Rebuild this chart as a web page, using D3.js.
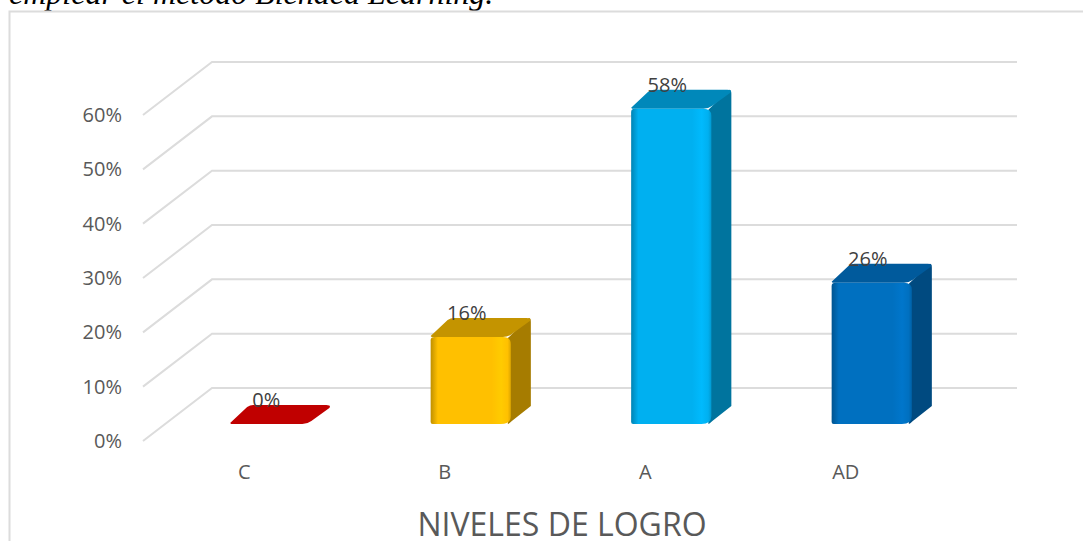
<!DOCTYPE html>
<html>
<head>
<meta charset="utf-8">
<script src="https://cdn.jsdelivr.net/npm/d3@7"></script>
<style>
  html, body { margin: 0; padding: 0; background: #fff; overflow: hidden; }
  text { font-family: "Open Sans", sans-serif; }
</style>
</head>
<body>
<div id="chart"></div>
<script>
var categories = ["C", "B", "A", "AD"];
var values = [0, 16, 58, 26];
var yTicks = [0, 10, 20, 30, 40, 50, 60];
var faceColors = ["#c00000", "#ffc000", "#00b0f0", "#0070c0"];
var topColors = ["#c00000", "#c49400", "#0088ba", "#005a9c"];
var sideColors = ["#8f0000", "#a67c00", "#00749e", "#004a80"];
var heading = "emplear el método Blended Learning.";
var axisTitle = "NIVELES DE LOGRO";

var width = 1083;
var height = 541;
// oblique offsets of the fake 3d box
var wallDx = 69, wallDy = 53;
var barDx = 20, barDy = 19;
var barLift = 17;

var xScale = d3.scaleBand().domain(categories).range([170, 972]).paddingInner(0.6).paddingOuter(0.3);
var yScale = d3.scaleLinear().domain([0, 60]).range([441, 115]);

var svg = d3.select("#chart").append("svg").attr("width", width).attr("height", height);

// heading cut by the top of the page
svg.append("text")
  .attr("x", 9).attr("y", 4)
  .style("font-family", "'Liberation Serif', serif")
  .style("font-style", "italic")
  .style("font-size", "32px")
  .attr("fill", "#000")
  .text(heading);

// chart frame, open on right and bottom
svg.append("path")
  .attr("d", "M9.5," + height + "V11.5H" + width)
  .attr("fill", "none").attr("stroke", "#dcdcdc").attr("stroke-width", 2);

// gridlines
svg.selectAll(".grid").data(yTicks).enter().append("path")
  .attr("class", "grid")
  .attr("d", d => {
    var y = yScale(d);
    return "M143," + y + "L" + (143 + wallDx) + "," + (y - wallDy) + "H1017";
  })
  .attr("fill", "none").attr("stroke", "#dcdcdc").attr("stroke-width", 2);

// gradients for the front faces
var defs = svg.append("defs");
categories.forEach((c, i) => {
  var base = d3.color(faceColors[i]);
  var g = defs.append("linearGradient").attr("id", "face" + i);
  var stops = [[0, base.darker(0.8)], [0.09, base], [0.76, base], [0.88, base.brighter(0.15)], [0.96, base], [1, base.darker(0.4)]];
  stops.forEach(s => g.append("stop").attr("offset", s[0]).attr("stop-color", s[1]));
});

function topPath(x0, x1, y) {
  return "M" + x0 + "," + (y - 1) + "L" + (x0 + barDx - 3) + "," + (y - barDy + 2)
    + "Q" + (x0 + barDx) + "," + (y - barDy) + " " + (x0 + barDx + 3) + "," + (y - barDy)
    + "H" + (x1 + barDx - 4)
    + "Q" + (x1 + barDx + 1) + "," + (y - barDy) + " " + (x1 + barDx - 1) + "," + (y - barDy + 3)
    + "L" + (x1 + 1) + "," + (y - 3) + "Q" + (x1 - 3) + "," + y + " " + (x1 - 8) + "," + y
    + "H" + (x0 + 1) + "Z";
}

function sidePath(x1, yTop, yBot) {
  return "M" + (x1 - 3) + "," + (yTop + 1) + "L" + (x1 + barDx - 2) + "," + (yTop - barDy)
    + "Q" + (x1 + barDx) + "," + (yTop - barDy) + " " + (x1 + barDx) + "," + (yTop - barDy + 4)
    + "V" + (yBot - barDy + 1) + "L" + (x1 + 1) + "," + (yBot - 3)
    + "Q" + (x1 - 2) + "," + yBot + " " + (x1 - 3) + "," + yBot + "Z";
}

function frontPath(x0, x1, yTop, yBot) {
  return "M" + x0 + "," + (yTop + 3) + "Q" + x0 + "," + yTop + " " + (x0 + 4) + "," + yTop
    + "H" + (x1 - 8) + "Q" + x1 + "," + yTop + " " + x1 + "," + (yTop + 7)
    + "V" + (yBot - 8) + "Q" + x1 + "," + yBot + " " + (x1 - 10) + "," + yBot
    + "H" + (x0 + 2) + "Q" + x0 + "," + yBot + " " + x0 + "," + (yBot - 2) + "Z";
}

var bars = svg.selectAll(".bar").data(values).enter().append("g").attr("class", "bar");

bars.each(function(d, i) {
  var g = d3.select(this);
  var x0 = xScale(categories[i]);
  var x1 = x0 + xScale.bandwidth();
  var yBot = yScale(0) - barLift;
  var yTop = yScale(d) - barLift;
  if (d > 0) {
    g.append("path").attr("d", sidePath(x1, yTop, yBot)).attr("fill", sideColors[i]);
    g.append("path").attr("d", topPath(x0, x1, yTop)).attr("fill", topColors[i]);
    g.append("path").attr("d", frontPath(x0, x1, yTop, yBot)).attr("fill", "url(#face" + i + ")");
  } else {
    g.append("path").attr("d", topPath(x0, x1, yTop)).attr("fill", topColors[i]);
  }
});

// data labels
svg.selectAll(".val").data(values).enter().append("text")
  .attr("class", "val")
  .attr("x", (d, i) => xScale(categories[i]) + xScale.bandwidth() / 2 - 4)
  .attr("y", d => yScale(d) - barLift - 24)
  .attr("dy", "0.35em")
  .attr("text-anchor", "middle")
  .attr("fill", "#404040")
  .style("font-size", "20px")
  .text(d => d + "%");

// axes
var yAxis = d3.axisLeft(yScale).tickValues(yTicks).tickFormat(d => d + "%").tickSize(0).tickPadding(0);
var gy = svg.append("g").attr("transform", "translate(122,0)").call(yAxis);
var xAxis = d3.axisBottom(xScale).tickSize(0).tickPadding(0);
var gx = svg.append("g").attr("transform", "translate(-26,465)").call(xAxis);
[gy, gx].forEach(a => {
  a.select(".domain").remove();
  a.selectAll("text").attr("fill", "#595959").style("font-size", "20px").style("font-family", "'Open Sans', sans-serif");
});

svg.append("text")
  .attr("x", 562).attr("y", 536)
  .attr("text-anchor", "middle")
  .attr("fill", "#595959")
  .style("font-size", "32px")
  .text(axisTitle);
</script>
</body>
</html>
